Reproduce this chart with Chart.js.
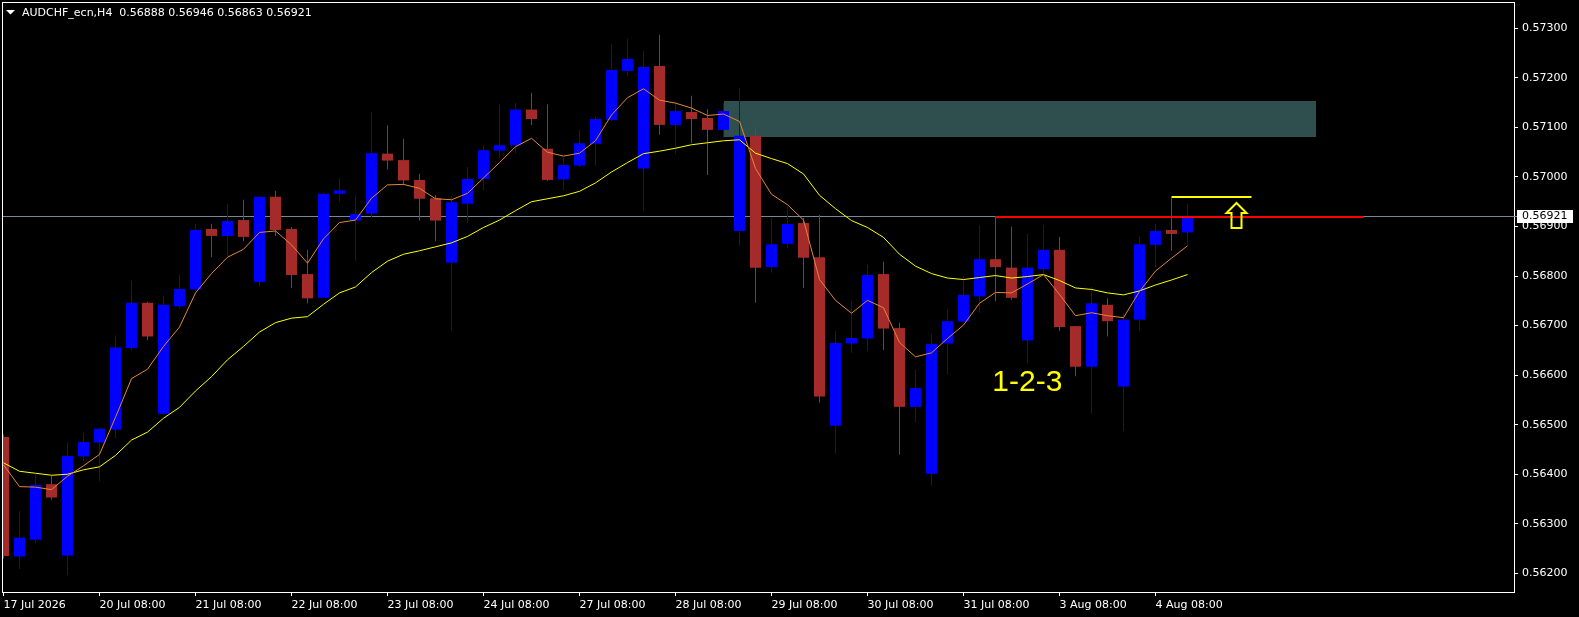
<!DOCTYPE html>
<html><head><meta charset="utf-8">
<script src="https://cdn.jsdelivr.net/npm/chart.js@4/dist/chart.umd.min.js"></script>
<style>html,body{margin:0;padding:0;background:#000;overflow:hidden}canvas{display:block}</style>
</head><body>
<canvas id="c" width="1579" height="617"></canvas>
<script>
const symbolTitle = "AUDCHF_ecn,H4";

const opens = [0.56475,0.56234,0.56268,0.56380,0.56236,0.56436,0.56464,0.56490,0.56655,0.56746,
0.56522,0.56739,0.56773,0.56895,0.56881,0.56913,0.56788,0.56960,0.56895,0.56804,
0.56756,0.56966,0.56912,0.56926,0.57047,0.57034,0.56994,0.56957,0.56827,0.56946,
0.56996,0.57053,0.57064,0.57136,0.57057,0.56995,0.57023,0.57067,0.57115,0.57214,
0.57017,0.57224,0.57105,0.57131,0.57119,0.57095,0.56891,0.57083,0.56818,0.56865,
0.56907,0.56838,0.56498,0.56664,0.56674,0.56804,0.56695,0.56536,0.56401,0.56664,
0.56708,0.56759,0.56834,0.56817,0.56670,0.56814,0.56853,0.56699,0.56617,0.56742,
0.56577,0.56712,0.56863,0.56893,0.56888];
const highs = [0.56480,0.56326,0.56400,0.56397,0.56464,0.56483,0.56494,0.56680,0.56791,0.56748,
0.56760,0.56803,0.56905,0.56905,0.56946,0.56954,0.56962,0.56972,0.56899,0.56853,
0.56968,0.56997,0.56963,0.57131,0.57104,0.57077,0.57006,0.56963,0.56962,0.57020,
0.57064,0.57146,0.57149,0.57170,0.57146,0.57040,0.57095,0.57123,0.57268,0.57279,
0.57254,0.57287,0.57153,0.57164,0.57137,0.57150,0.57180,0.57101,0.56917,0.56940,
0.56917,0.56923,0.56689,0.56749,0.56823,0.56829,0.56706,0.56611,0.56683,0.56732,
0.56800,0.56902,0.56921,0.56900,0.56885,0.56903,0.56879,0.56699,0.56778,0.56755,
0.56725,0.56880,0.56905,0.56957,0.56946];
const lows = [0.56230,0.56209,0.56261,0.56349,0.56197,0.56427,0.56386,0.56473,0.56650,0.56671,
0.56520,0.56735,0.56770,0.56838,0.56840,0.56870,0.56778,0.56881,0.56776,0.56745,
0.56755,0.56950,0.56831,0.56919,0.57015,0.56983,0.56912,0.56870,0.56690,0.56907,
0.56973,0.57039,0.57048,0.57105,0.56992,0.56973,0.57020,0.57023,0.57113,0.57204,
0.56932,0.57085,0.57047,0.57068,0.57004,0.57079,0.56861,0.56746,0.56807,0.56857,
0.56776,0.56545,0.56442,0.56645,0.56649,0.56651,0.56440,0.56505,0.56377,0.56602,
0.56706,0.56726,0.56749,0.56752,0.56624,0.56803,0.56689,0.56598,0.56522,0.56678,
0.56488,0.56689,0.56817,0.56851,0.56863];
const closes = [0.56235,0.56272,0.56378,0.56353,0.56437,0.56465,0.56492,0.56656,0.56746,0.56678,
0.56742,0.56774,0.56893,0.56881,0.56911,0.56879,0.56960,0.56893,0.56802,0.56755,
0.56966,0.56973,0.56925,0.57048,0.57033,0.56993,0.56956,0.56912,0.56949,0.56996,
0.57054,0.57064,0.57136,0.57117,0.56994,0.57024,0.57068,0.57117,0.57216,0.57238,
0.57222,0.57105,0.57133,0.57117,0.57095,0.57133,0.57083,0.56817,0.56864,0.56905,
0.56837,0.56557,0.56665,0.56675,0.56802,0.56694,0.56536,0.56574,0.56663,0.56709,
0.56762,0.56834,0.56818,0.56756,0.56817,0.56853,0.56697,0.56617,0.56745,0.56709,
0.56712,0.56864,0.56891,0.56885,0.56921];

const maFast = [0.56419,0.56375,0.56374,0.56369,0.56396,0.56417,0.56440,0.56515,0.56593,0.56612,
0.56658,0.56697,0.56766,0.56805,0.56838,0.56854,0.56888,0.56891,0.56863,0.56826,
0.56875,0.56908,0.56913,0.56957,0.56984,0.56985,0.56977,0.56956,0.56954,0.56967,
0.56998,0.57029,0.57061,0.57078,0.57050,0.57042,0.57048,0.57073,0.57125,0.57160,
0.57178,0.57155,0.57149,0.57139,0.57124,0.57127,0.57112,0.57017,0.56965,0.56944,
0.56913,0.56793,0.56751,0.56725,0.56751,0.56736,0.56666,0.56637,0.56645,0.56674,
0.56701,0.56745,0.56767,0.56766,0.56784,0.56803,0.56763,0.56720,0.56726,0.56720,
0.56716,0.56769,0.56810,0.56836,0.56861];
const maSlow = [0.56423,0.56406,0.56402,0.56398,0.56400,0.56409,0.56415,0.56438,0.56469,0.56485,
0.56513,0.56535,0.56568,0.56597,0.56631,0.56658,0.56687,0.56706,0.56715,0.56718,
0.56743,0.56766,0.56778,0.56807,0.56830,0.56844,0.56851,0.56859,0.56867,0.56880,
0.56898,0.56913,0.56932,0.56950,0.56956,0.56962,0.56971,0.56988,0.57010,0.57029,
0.57047,0.57052,0.57058,0.57065,0.57069,0.57073,0.57075,0.57048,0.57037,0.57027,
0.57006,0.56963,0.56936,0.56912,0.56898,0.56878,0.56844,0.56820,0.56805,0.56796,
0.56793,0.56797,0.56801,0.56796,0.56799,0.56803,0.56791,0.56776,0.56773,0.56766,
0.56762,0.56770,0.56782,0.56792,0.56803];

const dayTickIndex = [0,6,12,18,24,30,36,42,48,54,60,66,72];
const dayTickLabels = ["17 Jul 2026","20 Jul 08:00","21 Jul 08:00","22 Jul 08:00","23 Jul 08:00","24 Jul 08:00","27 Jul 08:00","28 Jul 08:00","29 Jul 08:00","30 Jul 08:00","31 Jul 08:00","3 Aug 08:00","4 Aug 08:00"];
const priceTicks = [0.562,0.563,0.564,0.565,0.566,0.567,0.568,0.569,0.570,0.571,0.572,0.573];

const zoneFrom = 45, zoneTo = 82, zoneTop = 0.57153, zoneBottom = 0.57081;
const resFrom = 62, resTo = 85, resPrice = 0.56921;
const brkFrom = 73, brkTo = 78, brkPrice = 0.56959;
const arrowIndex = 77, arrowPrice = 0.56949;
const labelText = "1-2-3", labelIndex = 61.8, labelPrice = 0.56568;

Chart.defaults.font.family = "'DejaVu Sans', sans-serif";

const idx = opens.map((_, i) => i);
const candleColors = idx.map(i => closes[i] >= opens[i] ? '#0000FF' : '#A52A2A');
const last = opens.length - 1;

const overlay = {
  id: 'overlay',
  beforeDatasetsDraw(chart) {
    const {ctx, chartArea: a, scales: {x, y}} = chart;
    ctx.save();
    ctx.beginPath(); ctx.rect(a.left, a.top, a.right - a.left, a.bottom - a.top); ctx.clip();
    ctx.fillStyle = '#2F4F4F';
    const zx1 = Math.round(x.getPixelForValue(zoneFrom)), zx2 = Math.round(x.getPixelForValue(zoneTo));
    const zy1 = Math.round(y.getPixelForValue(zoneTop)), zy2 = Math.round(y.getPixelForValue(zoneBottom));
    ctx.fillRect(zx1, zy1, zx2 - zx1, zy2 - zy1);
    const by = Math.round(y.getPixelForValue(closes[last])) + 0.5;
    ctx.strokeStyle = '#778899'; ctx.lineWidth = 1;
    ctx.beginPath(); ctx.moveTo(a.left, by); ctx.lineTo(a.right, by); ctx.stroke();
    ctx.restore();
  },
  afterDatasetsDraw(chart) {
    const {ctx, chartArea: a, scales: {x, y}} = chart;
    ctx.save();
    ctx.beginPath(); ctx.rect(a.left, a.top, a.right - a.left, a.bottom - a.top); ctx.clip();
    ctx.strokeStyle = '#FF0000'; ctx.lineWidth = 2;
    let ly = Math.round(y.getPixelForValue(resPrice)) + 1;
    ctx.beginPath(); ctx.moveTo(x.getPixelForValue(resFrom), ly); ctx.lineTo(x.getPixelForValue(resTo), ly); ctx.stroke();
    ctx.strokeStyle = '#FFFF00';
    ly = Math.round(y.getPixelForValue(brkPrice));
    ctx.beginPath(); ctx.moveTo(x.getPixelForValue(brkFrom), ly); ctx.lineTo(x.getPixelForValue(brkTo), ly); ctx.stroke();
    const ax = Math.round(x.getPixelForValue(arrowIndex)) + 0.5, ay = Math.round(y.getPixelForValue(arrowPrice)) + 1;
    ctx.strokeStyle = '#FFFF00'; ctx.lineWidth = 2; ctx.lineJoin = 'miter';
    ctx.beginPath();
    ctx.moveTo(ax, ay);
    ctx.lineTo(ax + 10, ay + 10);
    ctx.lineTo(ax + 5, ay + 10);
    ctx.lineTo(ax + 5, ay + 25);
    ctx.lineTo(ax - 5, ay + 25);
    ctx.lineTo(ax - 5, ay + 10);
    ctx.lineTo(ax - 10, ay + 10);
    ctx.closePath();
    ctx.stroke();
    ctx.fillStyle = '#FFFF00';
    ctx.font = "30px 'Liberation Sans', Arial, sans-serif";
    ctx.textBaseline = 'alphabetic'; ctx.textAlign = 'left';
    ctx.fillText(labelText, x.getPixelForValue(labelIndex), y.getPixelForValue(labelPrice));
    ctx.restore();
  },
  afterDraw(chart) {
    const {ctx, chartArea: a, scales: {y}} = chart;
    ctx.save();
    ctx.strokeStyle = '#FFFFFF'; ctx.lineWidth = 1;
    ctx.strokeRect(a.left - 0.5, a.top - 0.5, a.right - a.left + 1, a.bottom - a.top + 1);
    ctx.fillStyle = '#FFFFFF';
    ctx.beginPath(); ctx.moveTo(6, 10); ctx.lineTo(15, 10); ctx.lineTo(10.5, 14.5); ctx.closePath(); ctx.fill();
    ctx.font = "11px 'DejaVu Sans', sans-serif";
    ctx.textBaseline = 'alphabetic'; ctx.textAlign = 'left';
    const hdr = symbolTitle + '  ' + [opens[last], highs[last], lows[last], closes[last]].map(v => v.toFixed(5)).join(' ');
    ctx.fillText(hdr, 22, 16);
    const by = Math.round(y.getPixelForValue(closes[last])) + 0.5;
    ctx.strokeStyle = '#778899';
    ctx.beginPath(); ctx.moveTo(a.right, by); ctx.lineTo(a.right + 3, by); ctx.stroke();
    ctx.fillStyle = '#FFFFFF';
    ctx.fillRect(a.right + 3, Math.round(by) - 7, 56, 13);
    ctx.fillStyle = '#000000';
    ctx.textBaseline = 'middle';
    ctx.fillText(closes[last].toFixed(5), a.right + 8, by);
    ctx.restore();
  }
};

new Chart(document.getElementById('c'), {
  type: 'bar',
  data: {
    datasets: [
      {type: 'line', label: 'MA fast', data: idx.map(i => ({x: i, y: maFast[i]})), borderColor: '#E0893A', borderWidth: 1, pointRadius: 0, tension: 0, order: 0},
      {type: 'line', label: 'MA slow', data: idx.map(i => ({x: i, y: maSlow[i]})), borderColor: '#FFFF00', borderWidth: 1, pointRadius: 0, tension: 0, order: 0},
      {type: 'bar', label: 'body', data: idx.map(i => ({x: i, y: [opens[i], closes[i]]})), backgroundColor: candleColors, grouped: false, categoryPercentage: 1, barPercentage: 11/16, minBarLength: 1, borderWidth: 0, inflateAmount: 0, order: 1},
      {type: 'bar', label: 'wick', data: idx.map(i => ({x: i, y: [lows[i], highs[i]]})), backgroundColor: candleColors, grouped: false, categoryPercentage: 1, barPercentage: 1/16, borderWidth: 0, inflateAmount: 0, order: 2}
    ]
  },
  options: {
    responsive: false, animation: false, devicePixelRatio: 1, events: [],
    layout: {padding: {left: 3, top: 3, right: 0, bottom: 0}},
    plugins: {legend: {display: false}, tooltip: {enabled: false}},
    scales: {
      x: {
        type: 'linear', min: -0.03125, max: 94.40625, offset: false,
        afterBuildTicks: s => { s.ticks = dayTickIndex.map(v => ({value: v})); },
        afterFit: s => { s.height = 25; s.paddingLeft = 0; s.paddingRight = 0; s.paddingTop = 0; s.paddingBottom = 0; },
        ticks: {autoSkip: false, maxRotation: 0, minRotation: 0, align: 'start', padding: 3, color: '#FFFFFF', font: {size: 11}, callback: (v, i) => dayTickLabels[i]},
        grid: {display: true, drawOnChartArea: false, drawTicks: true, tickLength: 4, color: '#FFFFFF', offset: false},
        border: {display: false}
      },
      y: {
        type: 'linear', position: 'right', min: 0.5616236, max: 0.5735106,
        afterBuildTicks: s => { s.ticks = priceTicks.map(v => ({value: v})); },
        afterFit: s => { s.width = 65; s.paddingTop = 0; s.paddingBottom = 0; s.paddingLeft = 0; s.paddingRight = 0; },
        ticks: {padding: 4, color: '#FFFFFF', font: {size: 11}, callback: v => v.toFixed(5)},
        grid: {display: true, drawOnChartArea: false, drawTicks: true, tickLength: 4, color: '#FFFFFF'},
        border: {display: false}
      }
    }
  },
  plugins: [overlay]
});
</script>
</body></html>
